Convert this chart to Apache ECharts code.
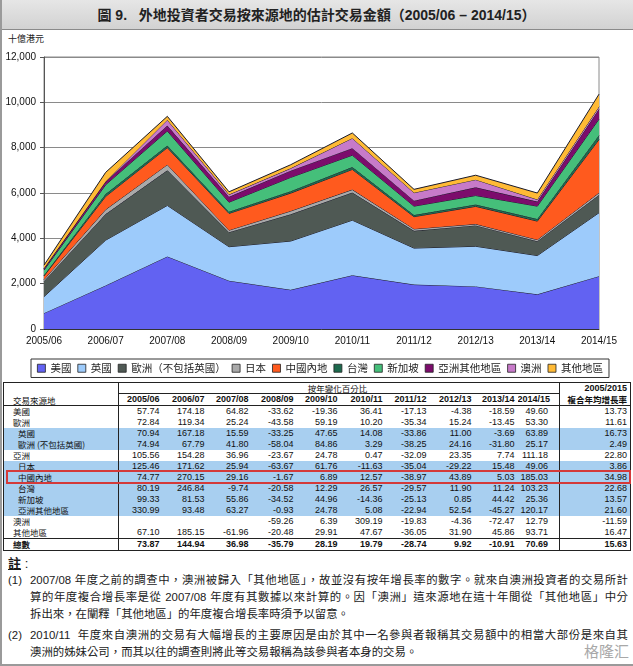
<!DOCTYPE html>
<html>
<head>
<meta charset="utf-8">
<script src="https://cdn.jsdelivr.net/npm/echarts/dist/echarts.min.js"></script>
<style>
  html, body { margin:0; padding:0; background:#fff; }
  body { width:633px; height:666px; position:relative; overflow:hidden;
         font-family:'Liberation Sans', Arial, 'Noto Sans CJK TC', sans-serif; color:#1a1a1a; }
  #frame { position:absolute; left:0; top:0; width:633px; height:666px; box-sizing:border-box;
           border-left:2px solid #9a9a9a; border-bottom:2px solid #9a9a9a; pointer-events:none; z-index:5; }
  #titlebar { position:absolute; left:0; top:0; width:633px; height:30px; box-sizing:border-box;
              background:linear-gradient(#e6e6e6,#d2d2d2); border-bottom:1px solid #8a8a8a;
              text-align:center; line-height:30px; font-size:14px; font-weight:bold; color:#222;
              font-family:'Liberation Sans', Arial, 'Noto Sans CJK TC', sans-serif; }
  #yname { position:absolute; left:8px; top:32px; font-size:9px; color:#222;
           font-family:'Noto Sans CJK TC', sans-serif; }
  #chart { position:absolute; left:0; top:30px; width:633px; height:352px; }
  #tblwrap { position:absolute; left:3px; top:382px; width:627px; }
  table { border-collapse:collapse; table-layout:fixed; width:627px; border:1.5px solid #222;
          font-size:9px; font-family:'Liberation Sans', Arial, 'Noto Sans CJK TC', sans-serif; }
  td { padding:0 3px 0 0; height:11px; line-height:11px; text-align:right; white-space:nowrap; overflow:hidden; color:#111; }
  td.lab { text-align:left; padding-left:9px; border-right:1px solid #222; font-family:'Noto Sans CJK TC', sans-serif; font-size:8.5px; }
  td.lab.sub { padding-left:14px; }
  td.cagr { border-left:1px solid #222; padding-right:3px; }
  td.last { padding-right:11px; }
  tr.blue td { background:#a8cff0; }
  tr.total td { border-top:1px solid #222; font-weight:bold; }
  tr.h1 td { height:10px; line-height:10px; }
  tr.h2 td { border-bottom:1px solid #222; font-weight:bold; }
  #redbox { position:absolute; border:2px solid #d43a3a; box-sizing:border-box; pointer-events:none; }
  .note { position:absolute; font-size:11.4px; line-height:17px; color:#1a1a1a;
          font-family:'Liberation Sans', Arial, 'Noto Sans CJK TC', sans-serif; white-space:nowrap; }
  .just { width:598px; text-align:justify; text-align-last:justify; white-space:normal; }
  #wm { position:absolute; left:584px; top:642px; font-size:15px; line-height:17px; color:#a8a8a8;
        font-family:'Noto Sans CJK SC', sans-serif; white-space:nowrap; }
</style>
</head>
<body>
<div id="titlebar">圖 9.&nbsp;&nbsp;&nbsp;外地投資者交易按來源地的估計交易金額（2005/06 – 2014/15）</div>
<div id="yname">十億港元</div>
<div id="chart"></div>
<div id="tblwrap"></div>
<div id="redbox"></div>

<div class="note" style="left:8px;top:555px;font-size:13px;"><b style="text-decoration:underline;">註</b> :</div>
<div class="note" style="left:8px;top:572px;">(1)</div>
<div class="note just" style="left:30px;top:572px;">2007/08 年度之前的調查中，澳洲被歸入「其他地區」，故並沒有按年增長率的數字。就來自澳洲投資者的交易所計</div>
<div class="note just" style="left:30px;top:589px;">算的年度複合增長率是從 2007/08 年度有其數據以來計算的。因「澳洲」這來源地在這十年間從「其他地區」中分</div>
<div class="note" style="left:30px;top:606px;">拆出來，在闡釋「其他地區」的年度複合增長率時須予以留意。</div>
<div class="note" style="left:8px;top:627px;">(2)</div>
<div class="note just" style="left:30px;top:627px;">2010/11&nbsp; 年度來自澳洲的交易有大幅增長的主要原因是由於其中一名參與者報稱其交易額中的相當大部份是來自其</div>
<div class="note" style="left:30px;top:644px;">澳洲的姊妹公司，而其以往的調查則將此等交易報稱為該參與者本身的交易。</div>
<div id="wm">格隆汇</div>
<div id="frame"></div>

<script>
// ---------- chart data (HK$ billion) ----------
const years = ['2005/06','2006/07','2007/08','2008/09','2009/10','2010/11','2011/12','2012/13','2013/14','2014/15'];
const yTicks = [0, 2000, 4000, 6000, 8000, 10000, 12000];

const seriesNames = ['美國','英國','歐洲（不包括英國）','日本','中國內地','台灣','新加坡','亞洲其他地區','澳洲','其他地區'];
const valUS        = [700, 1920, 3200, 2130, 1730, 2370, 1960, 1880, 1530, 2330];
const valUK        = [730, 2000, 2250, 1500, 2150, 2430, 1610, 1770, 1710, 2800];
const valEuropeEx  = [680, 1150, 1550,  640, 1180, 1220,  760,  920,  630,  780];
const valJapan     = [ 75,  200,  250,   90,  145,  130,   85,   60,   70,  100];
const valChina     = [160,  580,  750,  740,  790,  890,  540,  780,  820, 2350];
const valTaiwan    = [ 30,  105,   95,   75,   85,  107,   75,   84,   93,  190];
const valSingapore = [226,  410,  640,  420,  608,  520,  390,  393,  567,  711];
const valOtherAsia = [ 75,  145,  240,  236,  295,  310,  240,  365,  200,  440];
const valAustralia = [  0,    0,  247,  101,  107,  440,  353,  337,   93,  105];
const valOthers    = [140,  400,  160,  121,  157,  232,  148,  196,  285,  553];

// ---------- table data (year-on-year % change) ----------
const tblHeaderGroup = '按年變化百分比';
const tblCagrHead1 = '2005/2015';
const tblCagrHead2 = '複合年均增長率';
const tblFirstHead = '交易來源地';
const rowLabels = ['美國','歐洲','英國','歐洲 (不包括英國)','亞洲','日本','中國內地','台灣','新加坡','亞洲其他地區','澳洲','其他地區','總數'];
const tUS        = [57.74, 174.18, 64.82, -33.62, -19.36, 36.41, -17.13, -4.38, -18.59, 49.60];
const tEurope    = [72.84, 119.34, 25.24, -43.58, 59.19, 10.20, -35.34, 15.24, -13.45, 53.30];
const tUK        = [70.94, 167.18, 15.59, -33.25, 47.65, 14.08, -33.86, 11.00, -3.69, 63.89];
const tEuropeEx  = [74.94, 67.79, 41.80, -58.04, 84.86, 3.29, -38.25, 24.16, -31.80, 25.17];
const tAsia      = [105.56, 154.28, 36.96, -23.67, 24.78, 0.47, -32.09, 23.35, 7.74, 111.18];
const tJapan     = [125.46, 171.62, 25.94, -63.67, 61.76, -11.63, -35.04, -29.22, 15.48, 49.06];
const tChina     = [74.77, 270.15, 29.16, -1.67, 6.89, 12.57, -38.97, 43.89, 5.03, 185.03];
const tTaiwan    = [80.19, 246.84, -9.74, -20.58, 12.29, 26.57, -29.57, 11.90, 11.24, 103.23];
const tSingapore = [99.33, 81.53, 55.86, -34.52, 44.96, -14.36, -25.13, 0.85, 44.42, 25.36];
const tOtherAsia = [330.99, 93.48, 63.27, -0.93, 24.78, 5.08, -22.94, 52.54, -45.27, 120.17];
const tAustralia = [null, null, null, -59.26, 6.39, 309.19, -19.83, -4.36, -72.47, 12.79];
const tOthers    = [67.10, 185.15, -61.96, -20.48, 29.91, 47.67, -36.05, 31.90, 45.86, 93.71];
const tTotal     = [73.87, 144.94, 36.98, -35.79, 28.19, 19.79, -28.74, 9.92, -10.91, 70.69];
const tCagr      = [13.73, 11.61, 16.73, 2.49, 22.80, 3.86, 34.98, 22.68, 13.57, 21.60, -11.59, 16.47, 15.63];

// ---------- styles ----------
const seriesColors = ['#6262f2','#9dcbfb','#4f5954','#a9a9a9','#ff5a1e','#1d6a4e','#45bf7a','#7c0c6c','#c77ac9','#ffba35'];
const FONT = "'Liberation Sans', Arial, 'Noto Sans CJK TC', sans-serif";

const seriesValues = [valUS, valUK, valEuropeEx, valJapan, valChina, valTaiwan, valSingapore, valOtherAsia, valAustralia, valOthers];

const chart = echarts.init(document.getElementById('chart'), null, {renderer:'canvas'});
chart.setOption({
  animation:false,
  textStyle:{fontFamily:FONT},
  grid:{left:44, right:34, top:27, bottom:53, show:true, borderColor:'#8a8a8a', borderWidth:1, backgroundColor:'#fff'},
  legend:{
    left:31, top:329, orient:'horizontal',
    padding:[4,6,4,6], itemGap:6, itemWidth:8, itemHeight:8, icon:'rect',
    borderColor:'#333', borderWidth:1,
    itemStyle:{borderColor:'#222', borderWidth:0.8},
    textStyle:{fontSize:10.5, color:'#222', fontFamily:"'Noto Sans CJK TC', sans-serif"},
    data:seriesNames
  },
  xAxis:{
    type:'category', data:years, boundaryGap:false,
    axisLine:{lineStyle:{color:'#333', width:1}},
    axisTick:{show:false},
    axisLabel:{color:'#111', fontSize:10, margin:7, interval:0, fontFamily:FONT}
  },
  yAxis:{
    type:'value', min:yTicks[0], max:yTicks[yTicks.length-1], interval:yTicks[1]-yTicks[0],
    axisLine:{show:true, lineStyle:{color:'#555'}},
    axisTick:{show:true, length:4, lineStyle:{color:'#555'}},
    axisLabel:{color:'#111', fontSize:10, margin:8, fontFamily:FONT,
               formatter:function(v){ return v.toLocaleString('en-US'); }},
    splitLine:{show:true, lineStyle:{color:'#8a8a8a', width:1}}
  },
  series: seriesNames.map(function(n,i){
    return {
      name:n, type:'line', stack:'total', data:seriesValues[i],
      symbol:'none', smooth:false, z:2+i,
      color:seriesColors[i],
      itemStyle:{color:seriesColors[i]},
      lineStyle:{color:'#1a1a2a', width:1},
      areaStyle:{color:seriesColors[i], opacity:1}
    };
  })
});

// ---------- table ----------
const tblRows = [tUS, tEurope, tUK, tEuropeEx, tAsia, tJapan, tChina, tTaiwan, tSingapore, tOtherAsia, tAustralia, tOthers, tTotal];
const subRows  = {2:1, 3:1, 5:1, 6:1, 7:1, 8:1, 9:1};
const blueRows = {2:1, 3:1, 5:1, 6:1, 7:1, 8:1, 9:1};
const colW = [115, 44,45,44,45,44,45,44,45,43,42, 71];

let h = '<table><colgroup>' + colW.map(function(w){return '<col style="width:'+w+'px">';}).join('') + '</colgroup>';
h += '<tr class="h1"><td class="lab" rowspan="2" style="vertical-align:bottom;border-bottom:1px solid #222;">' + tblFirstHead + '</td>';
h += '<td colspan="10" style="text-align:center;border-bottom:1px solid #222;font-family:\'Noto Sans CJK TC\',sans-serif;font-size:8.5px;">' + tblHeaderGroup + '</td>';
h += '<td class="cagr" style="font-weight:bold;">' + tblCagrHead1 + '</td></tr>';
h += '<tr class="h2">' + years.map(function(y,i){return '<td'+(i===9?' class="last"':'')+'>'+y+'</td>';}).join('');
h += '<td class="cagr" style="font-family:\'Noto Sans CJK TC\',sans-serif;font-size:8.5px;">' + tblCagrHead2 + '</td></tr>';
tblRows.forEach(function(r, ri){
  let cls = [];
  if (blueRows[ri]) cls.push('blue');
  if (ri === tblRows.length-1) cls.push('total');
  h += '<tr id="row'+ri+'" class="'+cls.join(' ')+'"><td class="lab'+(subRows[ri]?' sub':'')+'">' + rowLabels[ri] + '</td>';
  r.forEach(function(v,i){ h += '<td'+(i===9?' class="last"':'')+'>' + (v===null?'':v.toFixed(2)) + '</td>'; });
  h += '<td class="cagr">' + tCagr[ri].toFixed(2) + '</td></tr>';
});
h += '</table>';
document.getElementById('tblwrap').innerHTML = h;

// red highlight box around 中國內地 row
const rr = document.getElementById('row6').getBoundingClientRect();
const rb = document.getElementById('redbox');
rb.style.left = '6px';
rb.style.width = '625px';
rb.style.top = (rr.top - 2) + 'px';
rb.style.height = (rr.height + 3) + 'px';
</script>
</body>
</html>
